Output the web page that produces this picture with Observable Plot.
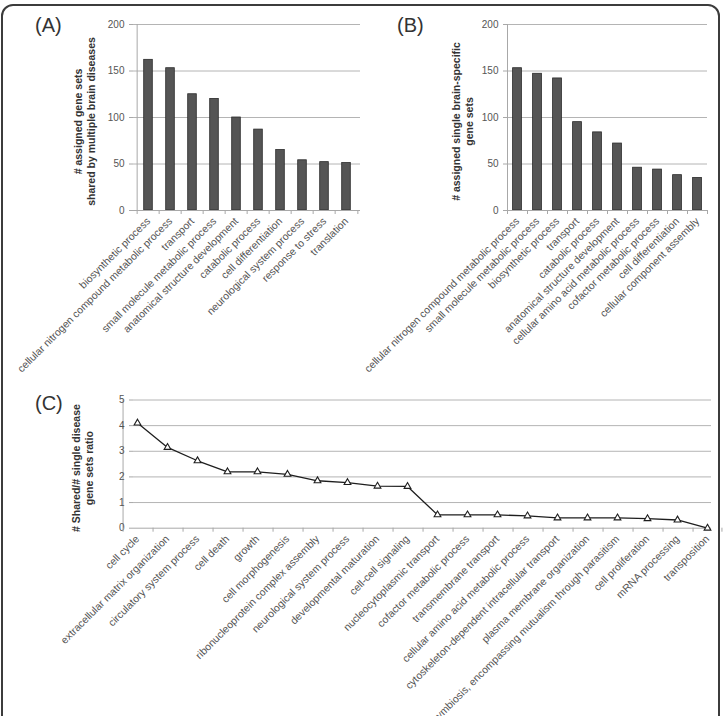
<!DOCTYPE html>
<html>
<head>
<meta charset="utf-8">
<script src="https://cdn.jsdelivr.net/npm/d3@7"></script>
<script src="https://cdn.jsdelivr.net/npm/@observablehq/plot@0.6"></script>
<style>
  html, body { margin: 0; padding: 0; background: #fff; overflow: hidden; }
  #fig { position: relative; width: 723px; height: 716px; overflow: hidden;
         font-family: "Liberation Sans", Arial, sans-serif; }
  #frame { position: absolute; left: 1px; top: 4px; width: 715px; height: 760px;
           border: 2px solid #3c3c3c; border-radius: 12px; }
  .panel { position: absolute; }
  .letter { position: absolute; font-size: 20px; line-height: 1; color: #333; }
</style>
</head>
<body>
<div id="fig"><div id="frame"></div></div>
<script>
// (A) gene sets shared by several brain diseases
const categoriesA = [
  "biosynthetic process",
  "cellular nitrogen compound metabolic process",
  "transport",
  "small molecule metabolic process",
  "anatomical structure development",
  "catabolic process",
  "cell differentiation",
  "neurological system process",
  "response to stress",
  "translation"
];
const valuesA = [162, 153, 125, 120, 100, 87, 65, 54, 52, 51];

// (B) gene sets specific to a single brain disease
const categoriesB = [
  "cellular nitrogen compound metabolic process",
  "small molecule metabolic process",
  "biosynthetic process",
  "transport",
  "catabolic process",
  "anatomical structure development",
  "cellular amino acid metabolic process",
  "cofactor metabolic process",
  "cell differentiation",
  "cellular component assembly"
];
const valuesB = [153, 147, 142, 95, 84, 72, 46, 44, 38, 35];

// (C) shared / single ratio per process
const categoriesC = [
  "cell cycle",
  "extracellular matrix organization",
  "circulatory system process",
  "cell death",
  "growth",
  "cell morphogenesis",
  "ribonucleoprotein complex assembly",
  "neurological system process",
  "developmental maturation",
  "cell-cell signaling",
  "nucleocytoplasmic transport",
  "cofactor metabolic process",
  "transmembrane transport",
  "cellular amino acid metabolic process",
  "cytoskeleton-dependent intracellular transport",
  "plasma membrane organization",
  "symbiosis, encompassing mutualism through parasitism",
  "cell proliferation",
  "mRNA processing",
  "transposition"
];
const valuesC = [4.1, 3.15, 2.63, 2.2, 2.2, 2.1, 1.85, 1.78, 1.64, 1.63,
                 0.52, 0.52, 0.52, 0.48, 0.4, 0.4, 0.4, 0.37, 0.32, 0.0];

const barTicks = [0, 50, 100, 150, 200];
const ratioTicks = [0, 1, 2, 3, 4, 5];

const titleA = "# assigned gene sets\nshared by multiple brain diseases";
const titleB = "# assigned single brain-specific\ngene sets";
const titleC = "# Shared/# single disease\ngene sets ratio";

const FONT = "'Liberation Sans', Arial, Helvetica, sans-serif";
const GRID = "#b4b4b4";
const AXIS = "#a8a8a8";
const TEXT = "#555";

const fig = document.getElementById("fig");

function place(node, left, top) {
  node.classList.add("panel");
  node.style.left = left + "px";
  node.style.top = top + "px";
  fig.appendChild(node);
}

function letter(txt, left, top) {
  const d = document.createElement("div");
  d.className = "letter";
  d.textContent = txt;
  d.style.left = left + "px";
  d.style.top = top + "px";
  fig.appendChild(d);
}

// Category axis pieces shared by all three panels: axis line, boundary ticks, slanted labels
function categoryAxis(categories, bw, yMin) {
  const last = [categories[categories.length - 1]];
  return [
    Plot.ruleY([yMin], {stroke: AXIS}),
    Plot.ruleX(categories, {x: d => d, y1: yMin, y2: yMin, dx: -bw / 2, insetBottom: -4, stroke: AXIS}),
    Plot.ruleX(last, {x: d => d, y1: yMin, y2: yMin, dx: bw / 2, insetBottom: -4, stroke: AXIS}),
    Plot.text(categories, {
      x: d => d, text: d => d, frameAnchor: "bottom",
      rotate: -45, textAnchor: "end", lineAnchor: "middle",
      dx: 0, dy: 9, fill: TEXT, fontSize: 10.5
    })
  ];
}

function valueAxis(categories, bw, ticks, title, titleDx) {
  const lo = ticks[0], hi = ticks[ticks.length - 1];
  return [
    Plot.gridY(ticks.slice(1), {stroke: GRID, strokeOpacity: 1}),
    Plot.ruleX([categories[0]], {x: d => d, y1: lo, y2: hi, dx: -bw / 2, stroke: AXIS}),
    Plot.axisY(ticks, {tickSize: 4, tickPadding: 5, stroke: AXIS, fill: TEXT, fontSize: 10, label: null}),
    Plot.text([title], {
      text: d => d, frameAnchor: "left", rotate: -90,
      textAnchor: "middle", lineAnchor: "middle",
      dx: titleDx, dy: 4, fontWeight: "bold", fill: "#333",
      fontSize: 10.5, lineHeight: 1.2
    })
  ];
}

function barPanel({categories, values, title, width, height, marginLeft, marginRight, inset, titleDx}) {
  const data = categories.map((c, i) => ({category: c, value: values[i]}));
  const bw = (width - marginLeft - marginRight) / categories.length;
  return Plot.plot({
    width, height, marginLeft, marginRight,
    marginTop: 24, marginBottom: height - 210,
    style: {fontFamily: FONT, fontSize: "10px", background: "transparent", overflow: "hidden"},
    x: {domain: categories, padding: 0, axis: null},
    y: {domain: [0, 200], axis: null},
    marks: [
      ...valueAxis(categories, bw, barTicks, title, titleDx),
      Plot.barY(data, {x: "category", y: "value", fill: "#555", stroke: "#2a2a2a",
                       strokeWidth: 0.8, insetLeft: inset, insetRight: inset}),
      ...categoryAxis(categories, bw, 0)
    ]
  });
}

// (A)
place(barPanel({
  categories: categoriesA, values: valuesA, title: titleA,
  width: 365, height: 380, marginLeft: 133, marginRight: 5, inset: 6.7, titleDx: -49
}), 0, 0);

// (B)
place(barPanel({
  categories: categoriesB, values: valuesB, title: titleB,
  width: 383, height: 380, marginLeft: 167, marginRight: 16, inset: 5.6, titleDx: -45
}), 340, 0);

// (C) ratio line with open triangles
{
  const data = categoriesC.map((c, i) => ({category: c, value: valuesC[i]}));
  const width = 723, height = 336, marginLeft = 133, marginRight = 12;
  const bw = (width - marginLeft - marginRight) / categoriesC.length;
  const chart = Plot.plot({
    width, height, marginLeft, marginRight,
    marginTop: 19.5, marginBottom: 188.3,
    style: {fontFamily: FONT, fontSize: "10px", background: "transparent", overflow: "hidden"},
    x: {domain: categoriesC, padding: 0, axis: null},
    y: {domain: [0, 5], axis: null},
    marks: [
      ...valueAxis(categoriesC, bw, ratioTicks, titleC, -51),
      ...categoryAxis(categoriesC, bw, 0),
      Plot.line(data, {x: "category", y: "value", stroke: "#1e1e1e", strokeWidth: 1.3}),
      Plot.dot(data, {x: "category", y: "value", symbol: "triangle", r: 2.5,
                      fill: "#fff", stroke: "#1e1e1e", strokeWidth: 1.1})
    ]
  });
  place(chart, 0, 380);
}

letter("(A)", 35, 14.8);
letter("(B)", 397, 14.5);
letter("(C)", 35, 392.6);
</script>
</body>
</html>
